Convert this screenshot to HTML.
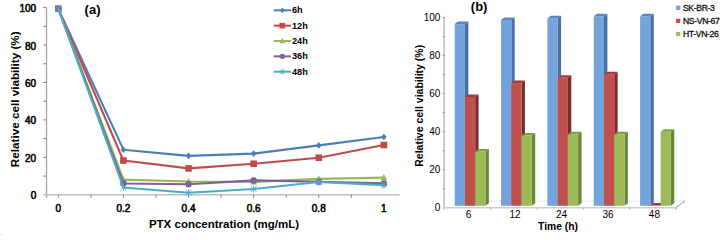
<!DOCTYPE html><html><head><meta charset="utf-8"><style>html,body{margin:0;padding:0;background:#fff;width:720px;height:236px;overflow:hidden}svg{display:block}text{font-family:"Liberation Sans",sans-serif}</style></head><body>
<svg width="720" height="236" viewBox="0 0 720 236">
<g stroke="#868686" stroke-width="1" fill="none">
<line x1="46.5" y1="7.5" x2="46.5" y2="197.7" stroke="#a4a4a4" stroke-width="1.3"/>
<line x1="43.2" y1="194.8" x2="399.6" y2="194.8" stroke="#c0c0c0" stroke-width="1.4"/>
<line x1="43.2" y1="176.08" x2="46.5" y2="176.08"/>
<line x1="43.2" y1="157.36" x2="46.5" y2="157.36"/>
<line x1="43.2" y1="138.64" x2="46.5" y2="138.64"/>
<line x1="43.2" y1="119.92" x2="46.5" y2="119.92"/>
<line x1="43.2" y1="101.20" x2="46.5" y2="101.20"/>
<line x1="43.2" y1="82.48" x2="46.5" y2="82.48"/>
<line x1="43.2" y1="63.76" x2="46.5" y2="63.76"/>
<line x1="43.2" y1="45.04" x2="46.5" y2="45.04"/>
<line x1="43.2" y1="26.32" x2="46.5" y2="26.32"/>
<line x1="43.2" y1="7.60" x2="46.5" y2="7.60"/>
<line x1="58.30" y1="194.8" x2="58.30" y2="197.8"/>
<line x1="90.86" y1="194.8" x2="90.86" y2="197.8"/>
<line x1="123.42" y1="194.8" x2="123.42" y2="197.8"/>
<line x1="155.98" y1="194.8" x2="155.98" y2="197.8"/>
<line x1="188.54" y1="194.8" x2="188.54" y2="197.8"/>
<line x1="221.10" y1="194.8" x2="221.10" y2="197.8"/>
<line x1="253.66" y1="194.8" x2="253.66" y2="197.8"/>
<line x1="286.22" y1="194.8" x2="286.22" y2="197.8"/>
<line x1="318.78" y1="194.8" x2="318.78" y2="197.8"/>
<line x1="351.34" y1="194.8" x2="351.34" y2="197.8"/>
</g>
<g font-size="10" fill="#000" stroke="#000" stroke-width="0.55" text-anchor="end">
<text x="36.2" y="199.30">0</text>
<text x="36.2" y="161.86">20</text>
<text x="36.2" y="124.42">40</text>
<text x="36.2" y="86.98">60</text>
<text x="36.2" y="49.54">80</text>
<text x="36.2" y="12.10">100</text>
</g>
<g font-size="10" fill="#000" stroke="#000" stroke-width="0.55" text-anchor="middle">
<text x="58.30" y="211.6">0</text>
<text x="123.42" y="211.6">0.2</text>
<text x="188.54" y="211.6">0.4</text>
<text x="253.66" y="211.6">0.6</text>
<text x="318.78" y="211.6">0.8</text>
<text x="383.90" y="211.6">1</text>
</g>
<text x="224" y="228" font-weight="bold" font-size="11.5" text-anchor="middle">PTX concentration (mg/mL)</text>
<text transform="translate(19.3,99.3) rotate(-90)" font-weight="bold" font-size="11.7" text-anchor="middle">Relative cell viability (%)</text>
<text x="84.6" y="14" font-weight="bold" font-size="13">(a)</text>
<polyline points="58.30,8.72 123.42,149.68 188.54,155.86 253.66,153.62 318.78,145.38 383.90,136.96" fill="none" stroke="#4A7EBB" stroke-width="2.1" stroke-linejoin="round"/>
<g transform="translate(58.30,8.72) scale(1.0)"><path d="M0 -3.3L2.8 0L0 3.3L-2.8 0Z" fill="#4A7EBB"/></g>
<g transform="translate(123.42,149.68) scale(1.0)"><path d="M0 -3.3L2.8 0L0 3.3L-2.8 0Z" fill="#4A7EBB"/></g>
<g transform="translate(188.54,155.86) scale(1.0)"><path d="M0 -3.3L2.8 0L0 3.3L-2.8 0Z" fill="#4A7EBB"/></g>
<g transform="translate(253.66,153.62) scale(1.0)"><path d="M0 -3.3L2.8 0L0 3.3L-2.8 0Z" fill="#4A7EBB"/></g>
<g transform="translate(318.78,145.38) scale(1.0)"><path d="M0 -3.3L2.8 0L0 3.3L-2.8 0Z" fill="#4A7EBB"/></g>
<g transform="translate(383.90,136.96) scale(1.0)"><path d="M0 -3.3L2.8 0L0 3.3L-2.8 0Z" fill="#4A7EBB"/></g>
<polyline points="58.30,8.72 123.42,160.54 188.54,168.40 253.66,163.72 318.78,157.73 383.90,145.00" fill="none" stroke="#BE4B48" stroke-width="2.1" stroke-linejoin="round"/>
<g transform="translate(58.30,8.72) scale(1.0)"><rect x="-3.3" y="-3.3" width="6.6" height="6.6" fill="#BE4B48"/></g>
<g transform="translate(123.42,160.54) scale(1.0)"><rect x="-3.3" y="-3.3" width="6.6" height="6.6" fill="#BE4B48"/></g>
<g transform="translate(188.54,168.40) scale(1.0)"><rect x="-3.3" y="-3.3" width="6.6" height="6.6" fill="#BE4B48"/></g>
<g transform="translate(253.66,163.72) scale(1.0)"><rect x="-3.3" y="-3.3" width="6.6" height="6.6" fill="#BE4B48"/></g>
<g transform="translate(318.78,157.73) scale(1.0)"><rect x="-3.3" y="-3.3" width="6.6" height="6.6" fill="#BE4B48"/></g>
<g transform="translate(383.90,145.00) scale(1.0)"><rect x="-3.3" y="-3.3" width="6.6" height="6.6" fill="#BE4B48"/></g>
<polyline points="58.30,8.72 123.42,179.64 188.54,181.51 253.66,181.88 318.78,178.89 383.90,177.58" fill="none" stroke="#98B954" stroke-width="2.1" stroke-linejoin="round"/>
<g transform="translate(58.30,8.72) scale(1.0)"><path d="M0 -3.6L3.4 2.6L-3.4 2.6Z" fill="#98B954"/></g>
<g transform="translate(123.42,179.64) scale(1.0)"><path d="M0 -3.6L3.4 2.6L-3.4 2.6Z" fill="#98B954"/></g>
<g transform="translate(188.54,181.51) scale(1.0)"><path d="M0 -3.6L3.4 2.6L-3.4 2.6Z" fill="#98B954"/></g>
<g transform="translate(253.66,181.88) scale(1.0)"><path d="M0 -3.6L3.4 2.6L-3.4 2.6Z" fill="#98B954"/></g>
<g transform="translate(318.78,178.89) scale(1.0)"><path d="M0 -3.6L3.4 2.6L-3.4 2.6Z" fill="#98B954"/></g>
<g transform="translate(383.90,177.58) scale(1.0)"><path d="M0 -3.6L3.4 2.6L-3.4 2.6Z" fill="#98B954"/></g>
<polyline points="58.30,8.72 123.42,183.57 188.54,184.32 253.66,180.39 318.78,181.70 383.90,183.38" fill="none" stroke="#7D60A0" stroke-width="2.1" stroke-linejoin="round"/>
<g transform="translate(58.30,8.72) scale(1.0)"><circle cx="0" cy="0" r="3.2" fill="#7D60A0"/></g>
<g transform="translate(123.42,183.57) scale(1.0)"><circle cx="0" cy="0" r="3.2" fill="#7D60A0"/></g>
<g transform="translate(188.54,184.32) scale(1.0)"><circle cx="0" cy="0" r="3.2" fill="#7D60A0"/></g>
<g transform="translate(253.66,180.39) scale(1.0)"><circle cx="0" cy="0" r="3.2" fill="#7D60A0"/></g>
<g transform="translate(318.78,181.70) scale(1.0)"><circle cx="0" cy="0" r="3.2" fill="#7D60A0"/></g>
<g transform="translate(383.90,183.38) scale(1.0)"><circle cx="0" cy="0" r="3.2" fill="#7D60A0"/></g>
<polyline points="58.30,8.72 123.42,187.50 188.54,192.74 253.66,189.00 318.78,182.07 383.90,185.25" fill="none" stroke="#4BACC6" stroke-width="2.1" stroke-linejoin="round"/>
<g transform="translate(58.30,8.72) scale(1.0)"><g stroke="#4BACC6" stroke-width="0.9"><line x1="-3" y1="-3" x2="3" y2="3"/><line x1="-3" y1="3" x2="3" y2="-3"/><line x1="0" y1="-3.5" x2="0" y2="3.5"/></g></g>
<g transform="translate(123.42,187.50) scale(1.0)"><g stroke="#4BACC6" stroke-width="0.9"><line x1="-3" y1="-3" x2="3" y2="3"/><line x1="-3" y1="3" x2="3" y2="-3"/><line x1="0" y1="-3.5" x2="0" y2="3.5"/></g></g>
<g transform="translate(188.54,192.74) scale(1.0)"><g stroke="#4BACC6" stroke-width="0.9"><line x1="-3" y1="-3" x2="3" y2="3"/><line x1="-3" y1="3" x2="3" y2="-3"/><line x1="0" y1="-3.5" x2="0" y2="3.5"/></g></g>
<g transform="translate(253.66,189.00) scale(1.0)"><g stroke="#4BACC6" stroke-width="0.9"><line x1="-3" y1="-3" x2="3" y2="3"/><line x1="-3" y1="3" x2="3" y2="-3"/><line x1="0" y1="-3.5" x2="0" y2="3.5"/></g></g>
<g transform="translate(318.78,182.07) scale(1.0)"><g stroke="#4BACC6" stroke-width="0.9"><line x1="-3" y1="-3" x2="3" y2="3"/><line x1="-3" y1="3" x2="3" y2="-3"/><line x1="0" y1="-3.5" x2="0" y2="3.5"/></g></g>
<g transform="translate(383.90,185.25) scale(1.0)"><g stroke="#4BACC6" stroke-width="0.9"><line x1="-3" y1="-3" x2="3" y2="3"/><line x1="-3" y1="3" x2="3" y2="-3"/><line x1="0" y1="-3.5" x2="0" y2="3.5"/></g></g>
<line x1="273.7" y1="10.30" x2="291" y2="10.30" stroke="#4A7EBB" stroke-width="2"/>
<g transform="translate(282.30,10.30) scale(0.85)"><path d="M0 -3.3L2.8 0L0 3.3L-2.8 0Z" fill="#4A7EBB"/></g>
<text x="292" y="13.40" font-weight="bold" font-size="9.2">6h</text>
<line x1="273.7" y1="25.65" x2="291" y2="25.65" stroke="#BE4B48" stroke-width="2"/>
<g transform="translate(282.30,25.65) scale(0.85)"><rect x="-3.3" y="-3.3" width="6.6" height="6.6" fill="#BE4B48"/></g>
<text x="292" y="28.75" font-weight="bold" font-size="9.2">12h</text>
<line x1="273.7" y1="41.00" x2="291" y2="41.00" stroke="#98B954" stroke-width="2"/>
<g transform="translate(282.30,41.00) scale(0.85)"><path d="M0 -3.6L3.4 2.6L-3.4 2.6Z" fill="#98B954"/></g>
<text x="292" y="44.10" font-weight="bold" font-size="9.2">24h</text>
<line x1="273.7" y1="56.35" x2="291" y2="56.35" stroke="#7D60A0" stroke-width="2"/>
<g transform="translate(282.30,56.35) scale(0.85)"><circle cx="0" cy="0" r="3.2" fill="#7D60A0"/></g>
<text x="292" y="59.45" font-weight="bold" font-size="9.2">36h</text>
<line x1="273.7" y1="71.70" x2="291" y2="71.70" stroke="#4BACC6" stroke-width="2"/>
<g transform="translate(282.30,71.70) scale(0.85)"><g stroke="#4BACC6" stroke-width="0.9"><line x1="-3" y1="-3" x2="3" y2="3"/><line x1="-3" y1="3" x2="3" y2="-3"/><line x1="0" y1="-3.5" x2="0" y2="3.5"/></g></g>
<text x="292" y="74.80" font-weight="bold" font-size="9.2">48h</text>
<g stroke="#868686" stroke-width="1" fill="none">
<line x1="444.1" y1="17.5" x2="444.1" y2="209.3" stroke="#bcbcbc" stroke-width="1.5"/>
<line x1="442.8" y1="188.72" x2="444.4" y2="188.72"/>
<line x1="442.8" y1="169.70" x2="444.4" y2="169.70"/>
<line x1="442.8" y1="150.68" x2="444.4" y2="150.68"/>
<line x1="442.8" y1="131.65" x2="444.4" y2="131.65"/>
<line x1="442.8" y1="112.62" x2="444.4" y2="112.62"/>
<line x1="442.8" y1="93.60" x2="444.4" y2="93.60"/>
<line x1="442.8" y1="74.57" x2="444.4" y2="74.57"/>
<line x1="442.8" y1="55.55" x2="444.4" y2="55.55"/>
<line x1="442.8" y1="36.53" x2="444.4" y2="36.53"/>
<line x1="442.8" y1="17.50" x2="444.4" y2="17.50"/>
<line x1="490.70" y1="207.7" x2="490.70" y2="209.3"/>
<line x1="537.00" y1="207.7" x2="537.00" y2="209.3"/>
<line x1="583.30" y1="207.7" x2="583.30" y2="209.3"/>
<line x1="629.60" y1="207.7" x2="629.60" y2="209.3"/>
<line x1="675.90" y1="207.7" x2="675.90" y2="209.3"/>
</g>
<line x1="454" y1="201.1" x2="685" y2="201.1" stroke="#e6e6e6" stroke-width="1"/>
<line x1="675.8" y1="207.7" x2="685" y2="200.8" stroke="#909090" stroke-width="1"/>
<line x1="444.4" y1="207.7" x2="675.8" y2="207.7" stroke="#cdcdcd" stroke-width="1.6"/>
<g font-size="10" fill="#000" text-anchor="end">
<text x="440.4" y="211.45">0</text>
<text x="440.4" y="173.40">20</text>
<text x="440.4" y="135.35">40</text>
<text x="440.4" y="97.30">60</text>
<text x="440.4" y="59.25">80</text>
<text x="440.4" y="21.20">100</text>
</g>
<g font-size="10" fill="#000" text-anchor="middle">
<text x="468.60" y="217.6">6</text>
<text x="515.05" y="217.6">12</text>
<text x="561.50" y="217.6">24</text>
<text x="607.95" y="217.6">36</text>
<text x="654.40" y="217.6">48</text>
</g>
<text x="558" y="229.8" font-weight="bold" font-size="10.3" text-anchor="middle">Time (h)</text>
<text transform="translate(423.1,105.8) rotate(-90)" font-weight="bold" font-size="10.5" text-anchor="middle">Relative cell viability (%)</text>
<text x="470.8" y="11" font-weight="bold" font-size="13">(b)</text>
<path d="M464.95 24.10L468.35 21.60L468.35 203.30L464.95 205.80Z" fill="#4A6FA5"/>
<path d="M454.70 24.10L458.10 21.60L468.35 21.60L464.95 24.10Z" fill="#5A84BE"/>
<rect x="454.70" y="24.10" width="10.25" height="181.70" fill="#73A2DC"/>
<path d="M475.20 97.00L478.60 94.50L478.60 203.30L475.20 205.80Z" fill="#7A2C2B"/>
<path d="M464.95 97.00L468.35 94.50L478.60 94.50L475.20 97.00Z" fill="#9C3B39"/>
<rect x="464.95" y="97.00" width="10.25" height="108.80" fill="#C0504D"/>
<path d="M485.45 151.50L488.85 149.00L488.85 203.30L485.45 205.80Z" fill="#668736"/>
<path d="M475.20 151.50L478.60 149.00L488.85 149.00L485.45 151.50Z" fill="#7E9F45"/>
<rect x="475.20" y="151.50" width="10.25" height="54.30" fill="#9BBB59"/>
<path d="M511.30 19.90L514.70 17.40L514.70 203.30L511.30 205.80Z" fill="#4A6FA5"/>
<path d="M501.05 19.90L504.45 17.40L514.70 17.40L511.30 19.90Z" fill="#5A84BE"/>
<rect x="501.05" y="19.90" width="10.25" height="185.90" fill="#73A2DC"/>
<path d="M521.55 83.10L524.95 80.60L524.95 203.30L521.55 205.80Z" fill="#7A2C2B"/>
<path d="M511.30 83.10L514.70 80.60L524.95 80.60L521.55 83.10Z" fill="#9C3B39"/>
<rect x="511.30" y="83.10" width="10.25" height="122.70" fill="#C0504D"/>
<path d="M531.80 135.50L535.20 133.00L535.20 203.30L531.80 205.80Z" fill="#668736"/>
<path d="M521.55 135.50L524.95 133.00L535.20 133.00L531.80 135.50Z" fill="#7E9F45"/>
<rect x="521.55" y="135.50" width="10.25" height="70.30" fill="#9BBB59"/>
<path d="M557.65 18.20L561.05 15.70L561.05 203.30L557.65 205.80Z" fill="#4A6FA5"/>
<path d="M547.40 18.20L550.80 15.70L561.05 15.70L557.65 18.20Z" fill="#5A84BE"/>
<rect x="547.40" y="18.20" width="10.25" height="187.60" fill="#73A2DC"/>
<path d="M567.90 77.80L571.30 75.30L571.30 203.30L567.90 205.80Z" fill="#7A2C2B"/>
<path d="M557.65 77.80L561.05 75.30L571.30 75.30L567.90 77.80Z" fill="#9C3B39"/>
<rect x="557.65" y="77.80" width="10.25" height="128.00" fill="#C0504D"/>
<path d="M578.15 134.30L581.55 131.80L581.55 203.30L578.15 205.80Z" fill="#668736"/>
<path d="M567.90 134.30L571.30 131.80L581.55 131.80L578.15 134.30Z" fill="#7E9F45"/>
<rect x="567.90" y="134.30" width="10.25" height="71.50" fill="#9BBB59"/>
<path d="M604.00 16.20L607.40 13.70L607.40 203.30L604.00 205.80Z" fill="#4A6FA5"/>
<path d="M593.75 16.20L597.15 13.70L607.40 13.70L604.00 16.20Z" fill="#5A84BE"/>
<rect x="593.75" y="16.20" width="10.25" height="189.60" fill="#73A2DC"/>
<path d="M614.25 74.20L617.65 71.70L617.65 203.30L614.25 205.80Z" fill="#7A2C2B"/>
<path d="M604.00 74.20L607.40 71.70L617.65 71.70L614.25 74.20Z" fill="#9C3B39"/>
<rect x="604.00" y="74.20" width="10.25" height="131.60" fill="#C0504D"/>
<path d="M624.50 134.30L627.90 131.80L627.90 203.30L624.50 205.80Z" fill="#668736"/>
<path d="M614.25 134.30L617.65 131.80L627.90 131.80L624.50 134.30Z" fill="#7E9F45"/>
<rect x="614.25" y="134.30" width="10.25" height="71.50" fill="#9BBB59"/>
<path d="M650.35 16.20L653.75 13.70L653.75 203.30L650.35 205.80Z" fill="#4A6FA5"/>
<path d="M640.10 16.20L643.50 13.70L653.75 13.70L650.35 16.20Z" fill="#5A84BE"/>
<rect x="640.10" y="16.20" width="10.25" height="189.60" fill="#73A2DC"/>
<path d="M660.60 205.50L664.00 203.00L664.00 203.30L660.60 205.80Z" fill="#7A2C2B"/>
<path d="M650.35 205.50L653.75 203.00L664.00 203.00L660.60 205.50Z" fill="#9C3B39"/>
<rect x="650.35" y="205.50" width="10.25" height="0.30" fill="#C0504D"/>
<path d="M670.85 131.80L674.25 129.30L674.25 203.30L670.85 205.80Z" fill="#668736"/>
<path d="M660.60 131.80L664.00 129.30L674.25 129.30L670.85 131.80Z" fill="#7E9F45"/>
<rect x="660.60" y="131.80" width="10.25" height="74.00" fill="#9BBB59"/>
<rect x="676.1" y="5.70" width="4.2" height="4.2" fill="#73A2DC"/>
<text x="682.9" y="11.00" font-size="8.6" fill="#111" stroke="#111" stroke-width="0.3" letter-spacing="-0.32">SK-BR-3</text>
<rect x="676.1" y="18.80" width="4.2" height="4.2" fill="#C0504D"/>
<text x="682.9" y="24.10" font-size="8.6" fill="#111" stroke="#111" stroke-width="0.3" letter-spacing="-0.32">NS-VN-67</text>
<rect x="676.1" y="31.90" width="4.2" height="4.2" fill="#9BBB59"/>
<text x="682.9" y="37.20" font-size="8.6" fill="#111" stroke="#111" stroke-width="0.3" letter-spacing="-0.32">HT-VN-26</text>
<rect x="1" y="234" width="1" height="1" fill="#b8b8ff"/>
</svg></body></html>
